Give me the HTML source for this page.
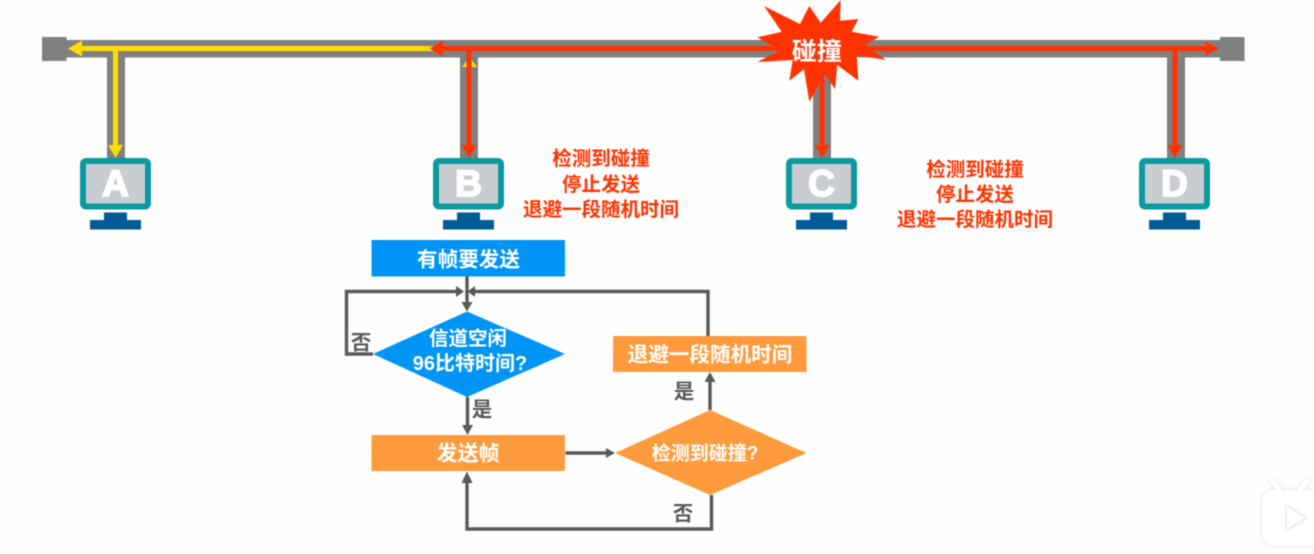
<!DOCTYPE html>
<html>
<head>
<meta charset="utf-8">
<style>
html,body{margin:0;padding:0;background:#fefefe;width:1314px;height:554px;overflow:hidden}
svg{display:block;filter:blur(.5px)}
text{font-family:"Liberation Sans","Noto Sans CJK SC",sans-serif;text-anchor:middle;dominant-baseline:central}
.w{fill:#fff;font-size:20.6px;font-weight:700}
.r{fill:#ff3300;font-size:19.5px;font-weight:700}
.g{fill:#595959;font-size:20.5px;font-weight:700}
.l{fill:#fff;font-size:37px;font-weight:700;stroke:#fff;stroke-width:1.8px;dominant-baseline:auto}
.f{fill:none;stroke:#595959;stroke-width:3.4}
</style>
</head>
<body>
<svg width="1314" height="554" viewBox="0 0 1314 554" xmlns="http://www.w3.org/2000/svg">
<rect x="0" y="0" width="1314" height="554" fill="#fefefe"/>
<!-- bus -->
<g fill="#808080">
<rect x="60" y="40" width="1165" height="17.5"/>
<rect x="42" y="37" width="24.5" height="24"/>
<rect x="1220" y="37" width="24.5" height="24"/>
<rect x="107" y="50" width="18" height="110"/>
<rect x="460" y="50" width="18" height="110"/>
<rect x="813" y="50" width="18" height="110"/>
<rect x="1167" y="50" width="18" height="110"/>
</g>
<!-- yellow signal -->
<g fill="#ffdd00">
<rect x="78" y="46" width="360" height="5"/>
<rect x="113" y="48" width="5" height="100"/>
<polygon points="68,48.5 82,40.5 82,56.5"/>
<polygon points="115.5,158 108,145 123,145"/>
<polygon points="469.5,57 462,67 477,67"/>
</g>
<!-- red signal -->
<g fill="#ff3300">
<rect x="440" y="46" width="770" height="5"/>
<rect x="466.5" y="48" width="5" height="100"/>
<rect x="819.5" y="50" width="5" height="100"/>
<rect x="1172.5" y="48" width="5" height="100"/>
<polygon points="429.5,48.5 443,40.5 443,56.5"/>
<polygon points="1219,48.5 1205,41 1205,56"/>
<polygon points="469,158 461.5,145 476.5,145"/>
<polygon points="822,158 814.5,145 829.5,145"/>
<polygon points="1175,158 1167.5,145 1182.5,145"/>
</g>
<!-- star -->
<polygon fill="#ff3300" points="764,6 800,24 809.3,6 820.7,22.7 840.7,0 840,20.7 858.3,19 851.7,31.7 879.3,36.7 865,45 886,60 856.7,55 858.3,80.7 837.3,65 835,89.3 825,74 809.3,101.7 804,69.3 789.3,80.7 792.7,60 757.3,62 780,50.7 757.3,37.3 781.7,31.7"/>
<rect x="819.5" y="74" width="5" height="30" fill="#ff3300"/>
<text x="816.7" y="52" fill="#fff" style="font-size:25px;font-weight:700">碰撞</text>
<!-- monitors -->
<g>
<rect x="83" y="161" width="65" height="45.5" rx="3" fill="#c9ccd0" stroke="#0a9aa0" stroke-width="6"/>
<rect x="104" y="212.5" width="23" height="8" fill="#005b96"/>
<rect x="90" y="220" width="51" height="9.5" fill="#005b96"/>
<text class="l" x="115.5" y="196">A</text>
<rect x="436" y="161" width="65" height="45.5" rx="3" fill="#c9ccd0" stroke="#0a9aa0" stroke-width="6"/>
<rect x="457" y="212.5" width="23" height="8" fill="#005b96"/>
<rect x="443" y="220" width="51" height="9.5" fill="#005b96"/>
<text class="l" x="468.5" y="196">B</text>
<rect x="789" y="161" width="65" height="45.5" rx="3" fill="#c9ccd0" stroke="#0a9aa0" stroke-width="6"/>
<rect x="810" y="212.5" width="23" height="8" fill="#005b96"/>
<rect x="796" y="220" width="51" height="9.5" fill="#005b96"/>
<text class="l" x="821.5" y="196">C</text>
<rect x="1142" y="161" width="65" height="45.5" rx="3" fill="#c9ccd0" stroke="#0a9aa0" stroke-width="6"/>
<rect x="1163" y="212.5" width="23" height="8" fill="#005b96"/>
<rect x="1149" y="220" width="51" height="9.5" fill="#005b96"/>
<text class="l" x="1174.5" y="196">D</text>
</g>
<!-- red captions -->
<text class="r" x="601" y="159">检测到碰撞</text>
<text class="r" x="601" y="185">停止发送</text>
<text class="r" x="601" y="210">退避一段随机时间</text>
<text class="r" x="975" y="170">检测到碰撞</text>
<text class="r" x="975" y="195">停止发送</text>
<text class="r" x="975" y="220">退避一段随机时间</text>
<!-- flow shapes -->
<rect x="371.5" y="240" width="193.5" height="36.5" fill="#0095f5"/>
<polygon points="467,311.5 565,354 467,397 373,354" fill="#0095f5"/>
<rect x="371.5" y="435" width="193.5" height="36" fill="#ff9b3c"/>
<rect x="613" y="336" width="193.5" height="36" fill="#ff9b3c"/>
<polygon points="615,453 710,410 806.5,453 710,495" fill="#ff9b3c"/>
<!-- connectors -->
<path class="f" d="M467,276.5V304"/>
<path class="f" d="M373,354H346.5V291.5H458"/>
<path class="f" d="M708,336V291.5H474"/>
<path class="f" d="M467.5,397V428"/>
<path class="f" d="M565.5,453H608"/>
<path class="f" d="M710,410V381"/>
<path class="f" d="M711.5,495V529H467V480"/>
<g fill="#595959">
<polygon points="467,311.5 461.5,302 472.5,302"/>
<polygon points="464,291.5 456,286 456,297"/>
<polygon points="467.5,291.5 475,286 475,297"/>
<polygon points="467.5,435 462,425 473,425"/>
<polygon points="615,453 606,448 606,458"/>
<polygon points="710,372 704.5,382 715.5,382"/>
<polygon points="467,471.5 461.5,483 472.5,483"/>
</g>
<!-- flow labels -->
<text class="w" x="468.5" y="260">有帧要发送</text>
<text class="w" x="468" y="339" style="font-size:19.5px">信道空闲</text>
<text class="w" x="470" y="364" style="font-size:20px">96比特时间?</text>
<text class="w" x="468" y="454" style="font-size:21px">发送帧</text>
<text class="w" x="705" y="454" style="font-size:19px">检测到碰撞?</text>
<text class="w" x="710" y="355">退避一段随机时间</text>
<text class="g" x="482" y="410">是</text>
<text class="g" x="361" y="343">否</text>
<text class="g" x="684" y="392">是</text>
<text class="g" x="683" y="514">否</text>
<!-- watermark -->
<g style="filter:drop-shadow(0 0 2px rgba(0,0,0,.12))" fill="#fff">
<path d="M1280,490L1272,480" stroke="#fff" stroke-width="5" stroke-linecap="round"/>
<path d="M1300,490L1308,480" stroke="#fff" stroke-width="5" stroke-linecap="round"/>
<rect x="1262" y="490" width="70" height="56" rx="12"/>
</g>
<path d="M1286,505L1307,518L1286,531Z" fill="#fff" stroke="#eeeeee" stroke-width="2" stroke-linejoin="round"/>
</svg>
</body>
</html>
